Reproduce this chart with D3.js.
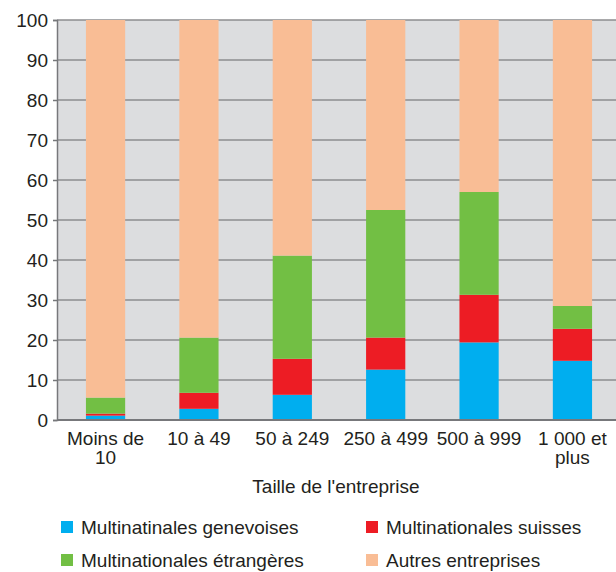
<!DOCTYPE html>
<html>
<head>
<meta charset="utf-8">
<script src="https://cdn.jsdelivr.net/npm/d3@7"></script>
<style>
  body { margin: 0; background: #fff; }
  text { font-family: "Liberation Sans", Arial, sans-serif; fill: #231f20; }
</style>
</head>
<body>
<svg id="chart"></svg>
<script>
// share of employment by company size (%)
const categories = ["Moins de 10", "10 à 49", "50 à 249", "250 à 499", "500 à 999", "1 000 et plus"];
const categoryLines = [["Moins de", "10"], ["10 à 49"], ["50 à 249"], ["250 à 499"], ["500 à 999"], ["1 000 et", "plus"]];
const seriesNames = ["Multinatinales genevoises", "Multinationales suisses", "Multinationales étrangères", "Autres entreprises"];
const genevoises = [1.1, 2.8, 6.3, 12.6, 19.4, 14.8];
const suisses = [0.5, 4.0, 9.0, 8.0, 11.9, 8.0];
const etrangeres = [4.0, 13.8, 25.8, 31.9, 25.7, 5.7];
const autres = [94.4, 79.4, 58.9, 47.5, 43.0, 71.5];
const yTicks = [0, 10, 20, 30, 40, 50, 60, 70, 80, 90, 100];
const colors = ["#00aeef", "#ed1c24", "#72bf44", "#f9bd95"];

const W = 616, H = 572;
const margin = {top: 20, right: -5, bottom: 152, left: 57};
const width = W - margin.left - margin.right;
const height = H - margin.top - margin.bottom;
const fs = "19px";

const svg = d3.select("#chart").attr("width", W).attr("height", H);
const g = svg.append("g").attr("transform", "translate(" + margin.left + "," + margin.top + ")");

const rows = categories.map((c, i) => ({
  cat: c,
  genevoises: genevoises[i],
  suisses: suisses[i],
  etrangeres: etrangeres[i],
  autres: autres[i]
}));
const keys = ["genevoises", "suisses", "etrangeres", "autres"];
const stacked = d3.stack().keys(keys)(rows);

const x = d3.scaleBand().domain(categories).range([0, width]).paddingInner(0.58).paddingOuter(0.31);
const y = d3.scaleLinear().domain([0, 100]).range([height, 0]);

g.append("rect")
  .attr("width", width).attr("height", height)
  .attr("fill", "#dcdddf");

// gridlines
g.append("g")
  .selectAll("line")
  .data(yTicks.filter(d => d > 0))
  .join("line")
    .attr("x1", 0).attr("x2", width)
    .attr("y1", d => y(d)).attr("y2", d => y(d))
    .attr("stroke", "#8d8d8f")
    .attr("stroke-width", 1.5);

g.append("g")
  .selectAll("g")
  .data(stacked)
  .join("g")
    .attr("fill", (d, i) => colors[i])
  .selectAll("rect")
  .data(d => d)
  .join("rect")
    .attr("x", d => x(d.data.cat))
    .attr("width", x.bandwidth())
    .attr("y", d => y(d[1]))
    .attr("height", d => y(d[0]) - y(d[1]));

const yAxis = g.append("g")
  .call(d3.axisLeft(y).tickValues(yTicks).tickSize(4).tickPadding(5));
yAxis.select(".domain").attr("stroke", "#77787b").attr("stroke-width", 1.5);
yAxis.selectAll(".tick line").attr("stroke", "#77787b").attr("stroke-width", 1.5);
yAxis.selectAll(".tick text").style("font-size", fs).attr("fill", "#231f20");

g.append("line")
  .attr("x1", 0).attr("x2", width)
  .attr("y1", height).attr("y2", height)
  .attr("stroke", "#77787b").attr("stroke-width", 2);

// category labels, wrapped
const xl = g.append("g").attr("transform", "translate(0," + height + ")");
categories.forEach((c, i) => {
  const t = xl.append("text")
    .attr("x", x(c) + x.bandwidth() / 2)
    .attr("y", 25)
    .attr("text-anchor", "middle")
    .style("font-size", fs);
  categoryLines[i].forEach((line, j) => {
    t.append("tspan")
      .attr("x", x(c) + x.bandwidth() / 2)
      .attr("dy", j === 0 ? 0 : 19)
      .text(line);
  });
});

g.append("text")
  .attr("x", 279)
  .attr("y", height + 73)
  .attr("text-anchor", "middle")
  .style("font-size", fs)
  .text("Taille de l'entreprise");

// legend, two columns
const legend = svg.append("g");
const legendPos = [[61, 527], [366, 527], [61, 560], [366, 560]];
seriesNames.forEach((name, i) => {
  const item = legend.append("g").attr("transform", "translate(" + legendPos[i][0] + "," + legendPos[i][1] + ")");
  item.append("rect")
    .attr("x", 0).attr("y", -6)
    .attr("width", 12).attr("height", 12)
    .attr("fill", colors[i]);
  item.append("text")
    .attr("x", 20).attr("y", 0)
    .attr("dy", "0.35em")
    .style("font-size", fs)
    .text(name);
});
</script>
</body>
</html>
